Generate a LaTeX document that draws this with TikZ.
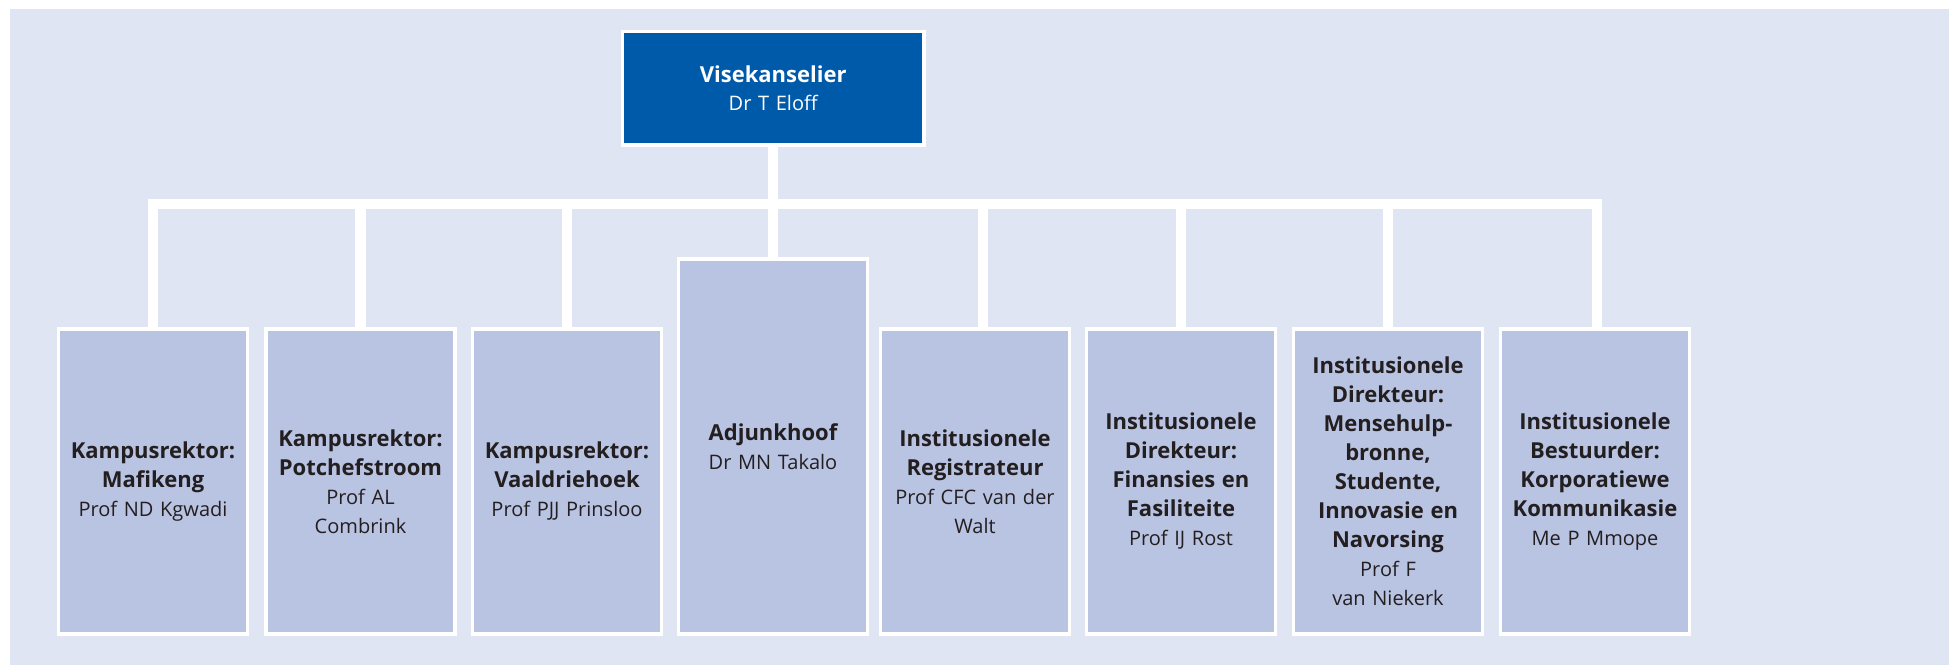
\documentclass[tikz,border=0pt]{standalone}
\usepackage{fontspec}
\setmainfont{Open Sans}
\definecolor{bgc}{HTML}{DFE5F3}
\definecolor{boxc}{HTML}{B9C3E2}
\definecolor{vcblue}{HTML}{005AAA}
\definecolor{txt}{HTML}{231F20}
\newcommand\orghead{\fontsize{22}{29}\selectfont\bfseries}
\tikzset{
  orgbox/.style={draw=white, line width=2.4pt, fill=boxc, minimum width=187.6pt,
    minimum height=303.6pt, text width=187pt, align=center, inner sep=0pt,
    font=\fontsize{20}{29}\selectfont, text=txt},
  tallbox/.style={orgbox, minimum height=373.6pt},
  topbox/.style={draw=white, line width=2.4pt, fill=vcblue, minimum width=300.6pt,
    minimum height=112.3pt, text width=290pt, align=center, inner sep=0pt,
    font=\fontsize{20}{28.5}\selectfont, text=white},
  conn/.style={draw=white, line width=10.5pt, line join=miter}
}
\begin{document}
\begin{tikzpicture}[x=1pt,y=-1pt]
\useasboundingbox (0,0) rectangle (1949,665);
\fill[bgc] (10,9) rectangle (1949,665);
\coordinate (bar) at (0,204);
% nodes
\node[topbox] (vc) at (773.2,88.3) {{\orghead Visekanselier}\\Dr T Eloff};
\node[orgbox] (b1) at (153,481.3) {{\orghead Kampusrektor:\\Mafikeng}\\Prof ND Kgwadi};
\node[orgbox] (b2) at (360.5,481.3) {{\orghead Kampusrektor:\\Potchefstroom}\\Prof AL\\Combrink};
\node[orgbox] (b3) at (567,481.3) {{\orghead Kampusrektor:\\Vaaldriehoek}\\Prof PJJ Prinsloo};
\node[tallbox] (b4) at (773,446.3) {{\orghead Adjunkhoof}\\Dr MN Takalo};
\node[orgbox] (b5) at (975,481.3) {{\orghead Institusionele\\Registrateur}\\Prof CFC van der\\Walt};
\node[orgbox] (b6) at (1181,481.3) {{\orghead Institusionele\\Direkteur:\\Finansies en\\Fasiliteite}\\Prof IJ Rost};
\node[orgbox] (b7) at (1388,481.3) {{\orghead Institusionele\\Direkteur:\\Mensehulp-\\bronne,\\Studente,\\Innovasie en\\Navorsing}\\Prof F\\van Niekerk};
\node[orgbox] (b8) at (1595,481.3) {{\orghead Institusionele\\Bestuurder:\\Korporatiewe\\Kommunikasie}\\Me P Mmope};
% connectors
\draw[conn] (vc.south) -- (vc.south |- bar);
\draw[conn] (b1.north) -- (b1.north |- bar) -- ([xshift=2pt]b8.north |- bar) -- ([xshift=2pt]b8.north);
\foreach \b in {b2,b3,b4,b6,b7} {\draw[conn] (\b.north) -- (\b.north |- bar);}
\draw[conn] ([xshift=8pt]b5.north) -- ([xshift=8pt]b5.north |- bar);
% redraw box borders over connectors
\foreach \b in {b1,b2,b3,b4,b5,b6,b7,b8,vc} {\draw[white, line width=2.4pt] (\b.north west) rectangle (\b.south east);}
\end{tikzpicture}
\end{document}
